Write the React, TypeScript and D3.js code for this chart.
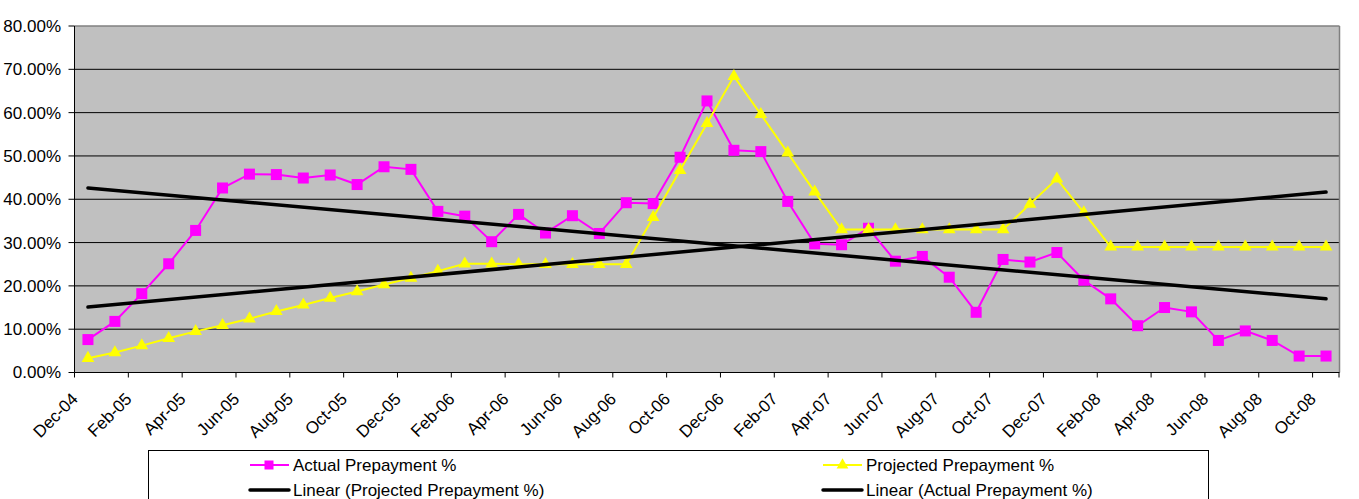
import React from "react";
import * as d3 from "d3";

const months = [
  "Dec-04","Jan-05","Feb-05","Mar-05","Apr-05","May-05","Jun-05","Jul-05","Aug-05","Sep-05","Oct-05","Nov-05",
  "Dec-05","Jan-06","Feb-06","Mar-06","Apr-06","May-06","Jun-06","Jul-06","Aug-06","Sep-06","Oct-06","Nov-06",
  "Dec-06","Jan-07","Feb-07","Mar-07","Apr-07","May-07","Jun-07","Jul-07","Aug-07","Sep-07","Oct-07","Nov-07",
  "Dec-07","Jan-08","Feb-08","Mar-08","Apr-08","May-08","Jun-08","Jul-08","Aug-08","Sep-08","Oct-08",
];

const actual = [
  7.6, 11.8, 18.2, 25.1, 32.8, 42.6, 45.8, 45.7, 44.9, 45.6, 43.4, 47.5,
  46.9, 37.2, 36.1, 30.2, 36.5, 32.2, 36.2, 32.1, 39.2, 39.0, 49.7, 62.7,
  51.3, 51.0, 39.5, 29.7, 29.5, 33.3, 25.7, 26.8, 22.0, 13.9, 26.1, 25.5,
  27.7, 21.3, 17.0, 10.8, 15.0, 14.0, 7.4, 9.6, 7.4, 3.8, 3.8,
];

const projected = [
  3.3, 4.6, 6.2, 7.9, 9.5, 10.9, 12.4, 14.1, 15.6, 17.2, 18.7, 20.3,
  21.8, 23.4, 25.1, 25.1, 25.0, 25.0, 25.0, 25.0, 25.0, 35.8, 46.7, 57.5,
  68.4, 59.6, 50.7, 41.7, 33.0, 33.0, 33.0, 33.0, 33.0, 33.0, 33.0, 38.9,
  44.7, 36.9, 29.0, 29.0, 29.0, 29.0, 29.0, 29.0, 29.0, 29.0, 29.0,
];

const yTicks = [0, 10, 20, 30, 40, 50, 60, 70, 80];

const legendItems = [
  "Actual Prepayment %",
  "Projected Prepayment %",
  "Linear (Projected Prepayment %)",
  "Linear (Actual Prepayment %)",
];

const FONT = "'Liberation Sans', Arial, sans-serif";

function linearFit(vals: number[]) {
  const n = vals.length;
  const xs = vals.map((_, i) => i);
  const mx = d3.mean(xs) as number;
  const my = d3.mean(vals) as number;
  let num = 0, den = 0;
  for (let i = 0; i < n; i++) {
    num += (xs[i] - mx) * (vals[i] - my);
    den += (xs[i] - mx) * (xs[i] - mx);
  }
  const b = num / den;
  const a = my - b * mx;
  return (i: number) => a + b * i;
}

export default function App() {
  const W = 1359, H = 499;
  const left = 74.5, right = 1339.5, top = 26, bottom = 372.5;

  const x = d3.scaleBand<string>().domain(months).range([left, right]).padding(0);
  const cx = (i: number) => (x(months[i]) as number) + x.bandwidth() / 2;
  const y = d3.scaleLinear().domain([0, 80]).range([bottom, top]);

  const line = d3.line<number>().x((_, i) => cx(i)).y((d) => y(d));

  const fitA = linearFit(actual);
  const fitP = linearFit(projected);
  const last = months.length - 1;

  const tri = d3.symbol().type(d3.symbolTriangle).size(70)() as string;
  const sq = 11;

  const tickIdx = months.map((_, i) => i).filter((i) => i % 2 === 0);

  return (
    <svg width={W} height={H} style={{ position: "absolute", left: 0, top: 0, background: "#fff" }}
      fontFamily={FONT}>
      <rect x={left} y={top} width={right - left} height={bottom - top} fill="#C0C0C0" />
      {yTicks.filter((t) => t > 0 && t < 80).map((t) => (
        <line key={t} x1={left} x2={right} y1={y(t)} y2={y(t)} stroke="#000" strokeWidth={1} />
      ))}
      <line x1={left} x2={right} y1={top} y2={top} stroke="#808080" strokeWidth={1.5} />
      <line x1={right} x2={right} y1={top} y2={bottom} stroke="#808080" strokeWidth={1.5} />
      <line x1={left} x2={left} y1={top} y2={bottom} stroke="#000" strokeWidth={1} />
      <line x1={left} x2={right} y1={bottom} y2={bottom} stroke="#000" strokeWidth={1} />

      {yTicks.map((t) => (
        <g key={t}>
          <line x1={left - 6} x2={left} y1={y(t)} y2={y(t)} stroke="#000" />
          <text x={61} y={y(t)} dy="0.35em" textAnchor="end" fontSize={17} fill="#000">
            {t.toFixed(2)}%
          </text>
        </g>
      ))}

      {tickIdx.map((i) => (
        <line key={"t" + i} x1={x(months[i]) as number} x2={x(months[i]) as number}
          y1={bottom} y2={bottom + 5} stroke="#000" />
      ))}
      <line x1={right - 0.5} x2={right - 0.5} y1={bottom} y2={bottom + 5} stroke="#000" />

      {tickIdx.map((i) => (
        <text key={"l" + i} transform={`translate(${cx(i) - 9},${400}) rotate(-45)`}
          textAnchor="end" fontSize={17} fill="#000">
          {months[i]}
        </text>
      ))}

      <path d={line(actual) as string} fill="none" stroke="#FF00FF" strokeWidth={2} />
      {actual.map((v, i) => (
        <rect key={"a" + i} x={cx(i) - sq / 2} y={y(v) - sq / 2} width={sq} height={sq} fill="#FF00FF" />
      ))}

      <path d={line(projected) as string} fill="none" stroke="#FFFF00" strokeWidth={2} />
      {projected.map((v, i) => (
        <path key={"p" + i} d={tri} transform={`translate(${cx(i)},${y(v)})`} fill="#FFFF00" />
      ))}

      <line x1={cx(0)} y1={y(fitP(0))} x2={cx(last)} y2={y(fitP(last))} stroke="#000" strokeWidth={3.5} strokeLinecap="round" />
      <line x1={cx(0)} y1={y(fitA(0))} x2={cx(last)} y2={y(fitA(last))} stroke="#000" strokeWidth={3.5} strokeLinecap="round" />

      <rect x={148.5} y={450.5} width={1060} height={80} fill="#fff" stroke="#000" strokeWidth={1} />
      {/* legend row 1 */}
      <g>
        <line x1={250} x2={289} y1={465} y2={465} stroke="#FF00FF" strokeWidth={2} />
        <rect x={264.5} y={460.5} width={9} height={9} fill="#FF00FF" />
        <text x={293} y={465} dy="0.35em" fontSize={17}>{legendItems[0]}</text>

        <line x1={823} x2={862} y1={465} y2={465} stroke="#FFFF00" strokeWidth={2} />
        <path d={d3.symbol().type(d3.symbolTriangle).size(60)() as string}
          transform="translate(842.5,465)" fill="#FFFF00" />
        <text x={866} y={465} dy="0.35em" fontSize={17}>{legendItems[1]}</text>
      </g>
      <g>
        <line x1={250} x2={289} y1={490} y2={490} stroke="#000" strokeWidth={3.5} strokeLinecap="round" />
        <text x={293} y={490} dy="0.35em" fontSize={17}>{legendItems[2]}</text>
        <line x1={823} x2={862} y1={490} y2={490} stroke="#000" strokeWidth={3.5} strokeLinecap="round" />
        <text x={866} y={490} dy="0.35em" fontSize={17}>{legendItems[3]}</text>
      </g>
    </svg>
  );
}
